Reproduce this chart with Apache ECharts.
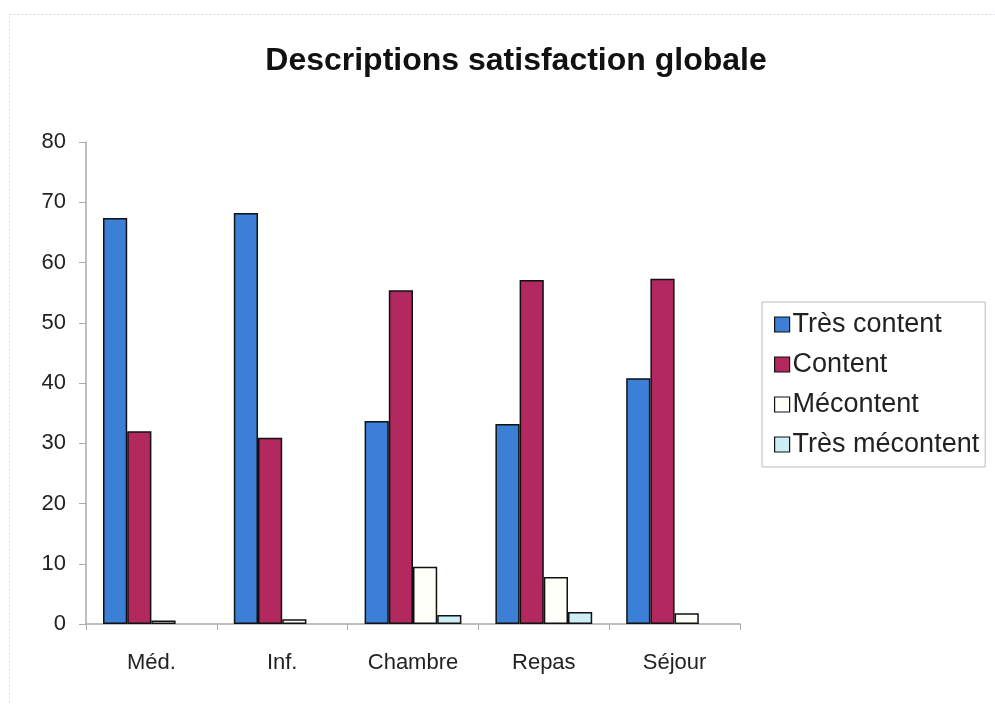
<!DOCTYPE html>
<html><head><meta charset="utf-8">
<script src="https://cdn.jsdelivr.net/npm/echarts@6/dist/echarts.min.js"></script>
<style>html,body{margin:0;padding:0;background:#fff}#c{width:995px;height:704px}</style>
</head><body><div id="c"></div>
<script>
const categories = ['Méd.', 'Inf.', 'Chambre', 'Repas', 'Séjour'];
const tresContent = [67.4, 68.2, 33.7, 33.2, 40.8];
const content = [32.0, 30.9, 55.4, 57.1, 57.3];
const mecontent = [0.6, 0.8, 9.5, 7.8, 1.8];
const tresMecontent = [0, 0, 1.5, 2.0, 0];
const seriesNames = ['Très content', 'Content', 'Mécontent', 'Très mécontent'];
const colors = ['#3b80d6', '#b2285f', '#fffffa', '#cdeef5'];

const chart = echarts.init(document.getElementById('c'));
const font = 'Liberation Sans, Arial, sans-serif';
const dataSets = [tresContent, content, mecontent, tresMecontent];
chart.setOption({
  animation: false,
  backgroundColor: '#ffffff',
  graphic: [{
    type: 'rect', left: 7, top: 12, silent: true,
    shape: { width: 1000, height: 700 },
    style: { fill: 'none', stroke: '#d3dcea', lineWidth: 1, lineDash: [2, 2] }
  }],
  title: {
    text: 'Descriptions satisfaction globale',
    left: 511, top: 40, textAlign: 'center',
    textStyle: { fontFamily: font, fontSize: 32, fontWeight: 'bold', color: '#111' }
  },
  legend: {
    orient: 'vertical', left: 762, top: 302,
    data: seriesNames,
    itemWidth: 15, itemHeight: 15, itemGap: 13,
    padding: [9, 6, 9, 12],
    borderColor: '#bbb', borderWidth: 1,
    icon: 'rect',
    textStyle: { fontFamily: font, fontSize: 27, color: '#222', padding: [0, 0, 0, -2] },
    itemStyle: { borderColor: '#111', borderWidth: 1.2 }
  },
  grid: { left: 86, top: 142, right: 255, bottom: 80 },
  xAxis: {
    type: 'category', data: categories,
    axisLine: { lineStyle: { color: '#aaa', width: 1.5 } },
    axisTick: { show: true, alignWithLabel: false, length: 6, lineStyle: { color: '#aaa' } },
    axisLabel: { fontFamily: font, fontSize: 22, color: '#222', margin: 28 }
  },
  yAxis: {
    type: 'value', min: 0, max: 80, interval: 10,
    axisLine: { show: true, lineStyle: { color: '#aaa', width: 1.5 } },
    axisTick: { show: true, length: 7, lineStyle: { color: '#aaa' } },
    splitLine: { show: false },
    axisLabel: { fontFamily: font, fontSize: 22, color: '#222', margin: 20 }
  },
  series: dataSets.map((d, i) => ({
    name: seriesNames[i], type: 'bar', data: d.map(v => v === 0 ? '-' : v),
    barGap: '0%', barCategoryGap: '26%',
    itemStyle: { color: colors[i], borderColor: '#111', borderWidth: 1.5 }
  }))
});
</script></body></html>
